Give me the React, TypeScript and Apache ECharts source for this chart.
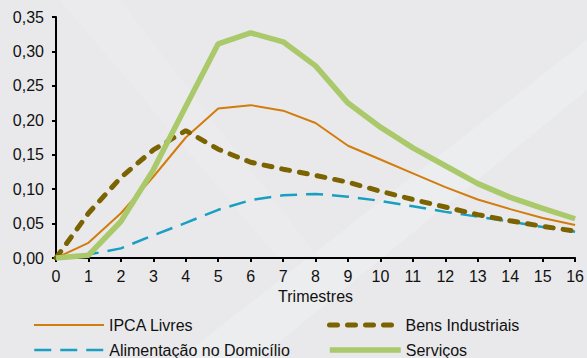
import React, { useEffect, useRef } from "react";
import * as echarts from "echarts";

const quarters = [0, 1, 2, 3, 4, 5, 6, 7, 8, 9, 10, 11, 12, 13, 14, 15, 16];
const ipcaLivres = [0, 0.022, 0.065, 0.118, 0.175, 0.217, 0.222, 0.214, 0.196, 0.163, 0.143, 0.123, 0.103, 0.085, 0.071, 0.058, 0.048];
const bensIndustriais = [0, 0.065, 0.117, 0.157, 0.185, 0.158, 0.139, 0.129, 0.12, 0.11, 0.097, 0.085, 0.074, 0.063, 0.054, 0.046, 0.039];
const alimentacao = [0, 0.005, 0.014, 0.033, 0.051, 0.07, 0.084, 0.091, 0.093, 0.089, 0.083, 0.075, 0.067, 0.06, 0.053, 0.045, 0.038];
const servicos = [0, 0.004, 0.053, 0.128, 0.22, 0.311, 0.327, 0.314, 0.279, 0.225, 0.19, 0.16, 0.134, 0.108, 0.088, 0.072, 0.057];
const yTicks = [0, 0.05, 0.1, 0.15, 0.2, 0.25, 0.3, 0.35];

const FONT = "'Liberation Sans', Arial, sans-serif";

function pairs(vals: number[]) {
  return quarters.map((q, i) => [q, vals[i]]);
}

export default function App() {
  const ref = useRef<HTMLDivElement>(null);
  useEffect(() => {
    const chart = echarts.init(ref.current!, undefined, { renderer: "svg" });
    const legendText = { fontFamily: FONT, fontSize: 16, color: "#111" };
    const legendCommon = {
      itemHeight: 12,
      itemStyle: { opacity: 0 },
      textStyle: legendText,
      selectedMode: false,
    };
    chart.setOption({
      animation: false,
      backgroundColor: "#e9e9eb",
      textStyle: { fontFamily: FONT },
      graphic: [
        {
          type: "polygon",
          silent: true,
          z: -10,
          shape: { points: [[180, 358], [587, 40], [587, 90], [260, 358]] },
          style: { fill: "#ecedef" },
        },
        {
          type: "polygon",
          silent: true,
          z: -10,
          shape: { points: [[60, 0], [120, 0], [320, 260], [280, 260]] },
          style: { fill: "#ebebed" },
        },
      ],
      grid: { left: 56, right: 10, top: 17, bottom: 100 },
      xAxis: {
        type: "value",
        min: 0,
        max: 16,
        interval: 1,
        name: "Trimestres",
        nameLocation: "middle",
        nameGap: 30,
        nameTextStyle: { fontFamily: FONT, fontSize: 16, color: "#111" },
        axisLine: { show: true, lineStyle: { color: "#000", width: 2 } },
        axisTick: { show: true, length: 4, lineStyle: { color: "#000", width: 2 } },
        axisLabel: { fontFamily: FONT, fontSize: 16, color: "#111", margin: 10 },
        splitLine: { show: false },
      },
      yAxis: {
        type: "value",
        min: 0,
        max: 0.35,
        interval: 0.05,
        axisLine: { show: true, lineStyle: { color: "#000", width: 2 } },
        axisTick: { show: true, length: 4, lineStyle: { color: "#000", width: 2 } },
        axisLabel: {
          fontFamily: FONT,
          fontSize: 16,
          color: "#111",
          margin: 12,
          formatter: (v: number) => {
            const t = yTicks.find((x) => Math.abs(x - v) < 1e-9);
            return (t !== undefined ? t : v).toFixed(2).replace(".", ",");
          },
        },
        splitLine: { show: false },
      },
      legend: [
        { ...legendCommon, data: ["IPCA Livres"], left: 28, top: 312, itemWidth: 70, lineStyle: { width: 2 } },
        { ...legendCommon, data: ["Bens Industriais"], left: 322, top: 312, itemWidth: 71, lineStyle: { width: 5, cap: "round" } },
        { ...legendCommon, data: ["Alimentação no Domicílio"], left: 28, top: 337, itemWidth: 70, lineStyle: { width: 2.5 } },
        { ...legendCommon, data: ["Serviços"], left: 322, top: 337, itemWidth: 71, lineStyle: { width: 5.5 } },
      ],
      series: [
        {
          name: "Alimentação no Domicílio",
          type: "line",
          data: pairs(alimentacao),
          showSymbol: false,
          symbol: "none",
          lineStyle: { color: "#189fc2", width: 2.5, type: [17, 9] },
          itemStyle: { color: "#189fc2" },
        },
        {
          name: "IPCA Livres",
          type: "line",
          data: pairs(ipcaLivres),
          showSymbol: false,
          symbol: "none",
          lineStyle: { color: "#d27c0c", width: 2 },
          itemStyle: { color: "#d27c0c" },
        },
        {
          name: "Bens Industriais",
          type: "line",
          data: pairs(bensIndustriais),
          showSymbol: false,
          symbol: "none",
          lineStyle: { color: "#7a6300", width: 5, type: [8, 10], cap: "round" },
          itemStyle: { color: "#7a6300" },
        },
        {
          name: "Serviços",
          type: "line",
          data: pairs(servicos),
          showSymbol: false,
          symbol: "none",
          lineStyle: { color: "#a9c96a", width: 5.5 },
          itemStyle: { color: "#a9c96a" },
        },
      ],
    });
    return () => chart.dispose();
  }, []);
  return <div ref={ref} style={{ width: 587, height: 358, position: "absolute", left: 0, top: 0 }} />;
}
